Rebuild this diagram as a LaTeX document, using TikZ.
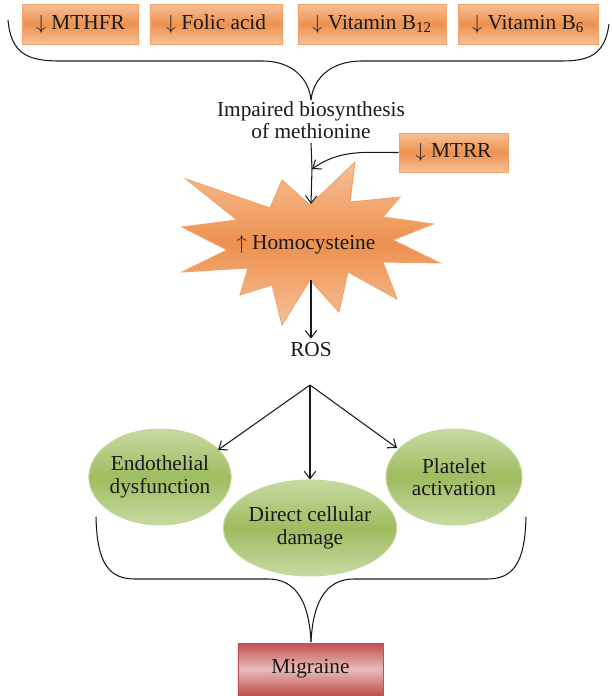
\documentclass[tikz,border=0pt]{standalone}
\usepackage{fontspec}
\setmainfont{Liberation Serif}
\definecolor{orangelight}{RGB}{246,192,150}
\definecolor{orangemid}{RGB}{237,145,80}
\definecolor{orangeedge}{RGB}{243,163,105}
\definecolor{greenlight}{RGB}{200,218,162}
\definecolor{greenmid}{RGB}{158,188,96}
\definecolor{greenedge}{RGB}{196,216,156}
\definecolor{redlight}{RGB}{232,188,188}
\definecolor{redmid}{RGB}{192,80,77}
\definecolor{linecol}{RGB}{25,25,25}
\usetikzlibrary{arrows.meta, positioning, shapes.geometric}
\newcommand{\dn}{$\big\downarrow$}
\newcommand{\upa}{$\big\uparrow$}

\begin{document}
\begin{tikzpicture}[
    x=0.03cm, y=-0.03cm,
    font=\fontsize{18.2}{19}\selectfont,
    text=linecol,
    block/.style={draw=orangeedge, line width=0.8pt, top color=orangelight, bottom color=orangelight, middle color=orangemid, minimum height=1.2cm, inner sep=0pt},
    bubble/.style={ellipse, draw=greenedge, line width=0.8pt, top color=greenlight, bottom color=greenlight, middle color=greenmid, minimum width=4.08cm, minimum height=2.88cm, inner sep=0pt, align=center},
    burst/.style={draw=orangeedge, line width=0.8pt, top color=orangelight, bottom color=orangelight, middle color=orangemid},
    endbox/.style={draw=redmid, line width=0.8pt, top color=redmid, bottom color=redmid, middle color=redlight, minimum width=4.35cm, minimum height=1.56cm},
    arrow/.style={-{Straight Barb[length=2.2mm, width=3.4mm]}, line width=0.9pt, linecol},
    brace/.style={line width=0.9pt, linecol}
]
    \useasboundingbox (0,0) rectangle (611,696);

    % Deficiencies on top
    \node[block, minimum width=3.48cm] (mthfr) at (80.5,24) {\dn\ MTHFR};
    \node[block, minimum width=3.96cm] (folic) at (216,24) {\dn\ Folic acid};
    \node[block, minimum width=4.44cm] (b12) at (372,24) {\dn\ Vitamin B\textsubscript{12}};
    \node[block, minimum width=4.2cm] (b6) at (528,24) {\dn\ Vitamin B\textsubscript{6}};

    % Top brace
    \coordinate (topcusp) at (311,100);
    \draw[brace] (8,20) .. controls (11,54) and (28,61) .. (60,61) -- (262,61)
        .. controls (294,61) and (309,80) .. (topcusp);
    \draw[brace] (609,24) .. controls (605,54) and (590,61) .. (562,61) -- (362,61)
        .. controls (329,61) and (313,80) .. (topcusp);

    \node[align=center] (impaired) at (311,120) {Impaired biosynthesis\\of methionine};
    \node[block, minimum width=3.27cm, minimum height=1.17cm] (mtrr) at (453.5,152.5) {\dn\ MTRR};

    % Homocysteine star
    \draw[burst] (310,205) -- (355,162) -- (350,202) -- (400,197) -- (383,217)
        -- (433,224) -- (393,240) -- (440,263) -- (383,262) -- (397,299)
        -- (348,272) -- (339,312) -- (310,280) -- (282,325) -- (272,285)
        -- (240,295) -- (248,268) -- (182,272) -- (227,250) -- (182,227)
        -- (237,220) -- (186,179) -- (270,208) -- (282,180) -- cycle;
    \node (hcy) at (306,245) {\upa\ Homocysteine};
    \coordinate (hcytop) at (311,204);
    \coordinate (hcybot) at (311,280);
    \coordinate (join) at (312,169);

    \node (ros) at (311,350) {ROS};
    \coordinate (split) at (310,385);

    % Consequences
    \node[bubble] (endo) at (160,477) {Endothelial\\dysfunction};
    \node[bubble] (direct) at (310,528) {Direct cellular\\damage};
    \node[bubble] (plate) at (454,477) {Platelet\\activation};

    % Bottom brace
    \coordinate (botcusp) at (311,642);
    \draw[brace] (96,517) .. controls (97,565) and (110,579) .. (135,579) -- (268,579)
        .. controls (295,579) and (309,600) .. (botcusp);
    \draw[brace] (526,517) .. controls (525,565) and (512,579) .. (487,579) -- (354,579)
        .. controls (327,579) and (313,600) .. (botcusp);

    \node[endbox] (migraine) at (310.5,669) {Migraine};

    % Arrows
    \draw[line width=0.9pt, linecol] (impaired.south) -- (join);
    \draw[arrow] (join) -- (hcytop);
    \draw[arrow] (mtrr.west) to[out=180, in=35] (join);
    \draw[arrow] (hcybot) -- (ros.north);
    \draw[arrow] (split) -- (218,450);
    \draw[arrow] (split) -- (direct.north);
    \draw[arrow] (split) -- (397,448);
\end{tikzpicture}
\end{document}
